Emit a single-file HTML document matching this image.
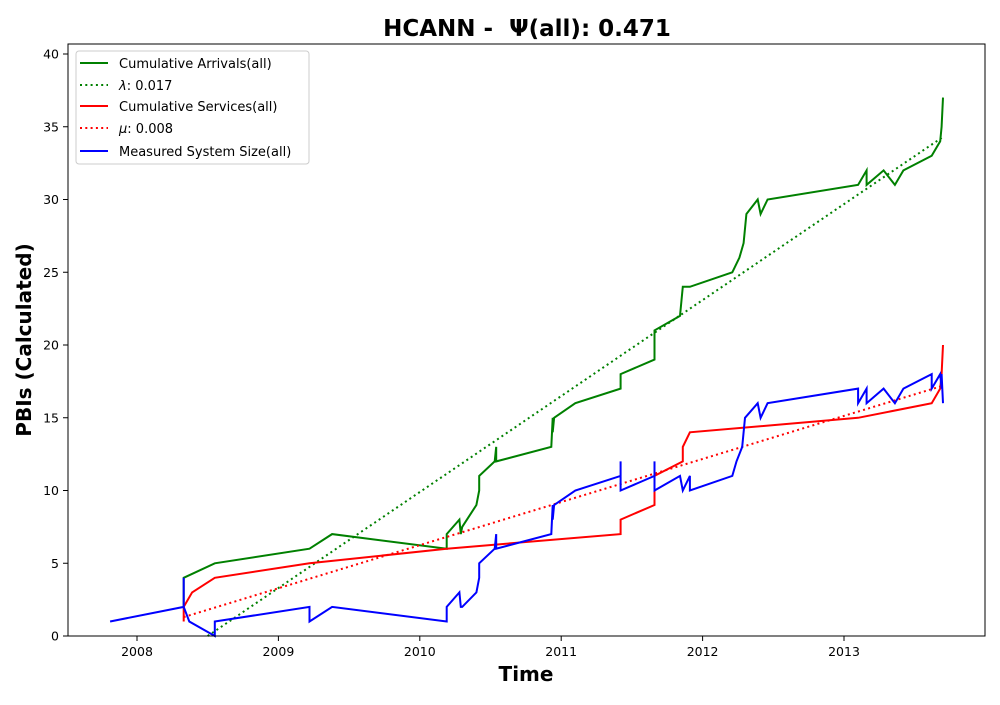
<!DOCTYPE html>
<html><head><meta charset="utf-8"><style>
body{margin:0;background:#fff;width:1000px;height:700px;overflow:hidden}
svg{font-family:"DejaVu Sans","Liberation Sans",sans-serif}
</style></head><body>
<svg id="chart" width="1000" height="700" xmlns="http://www.w3.org/2000/svg">
<text x="527" y="36" text-anchor="middle" font-size="23" font-weight="bold">HCANN -&#160; Ψ(all): 0.471</text>
<g id="plot"></g>
<rect x="68" y="44" width="917" height="592" fill="none" stroke="#000" stroke-width="1"/>
<g id="axes"></g>
<text x="526" y="681" text-anchor="middle" font-size="20" font-weight="bold">Time</text>
<text transform="translate(31,340) rotate(-90)" text-anchor="middle" font-size="20" font-weight="bold">PBIs (Calculated)</text>
<g>
<rect x="76" y="51" width="233" height="113" rx="3" fill="#fff" fill-opacity="0.8" stroke="#ccc"/>
<line x1="80" y1="63" x2="108" y2="63" stroke="green" stroke-width="2"/>
<text x="119" y="68" font-size="13">Cumulative Arrivals(all)</text>
<line x1="80" y1="85" x2="108" y2="85" stroke="green" stroke-width="2" stroke-dasharray="2,3.3"/>
<text x="119" y="90" font-size="13"><tspan font-style="italic">λ</tspan>: 0.017</text>
<line x1="80" y1="106" x2="108" y2="106" stroke="red" stroke-width="2"/>
<text x="119" y="111" font-size="13">Cumulative Services(all)</text>
<line x1="80" y1="128" x2="108" y2="128" stroke="red" stroke-width="2" stroke-dasharray="2,3.3"/>
<text x="119" y="133" font-size="13"><tspan font-style="italic">μ</tspan>: 0.008</text>
<line x1="80" y1="151" x2="108" y2="151" stroke="blue" stroke-width="2"/>
<text x="119" y="156" font-size="13">Measured System Size(all)</text>
</g>
</svg>
<script>
const arrivalsT=[2008.33,2008.33,2008.55,2009.22,2009.38,2010.19,2010.19,2010.28,2010.29,2010.30,2010.40,2010.42,2010.42,2010.53,2010.54,2010.54,2010.93,2010.94,2010.94,2010.95,2011.10,2011.42,2011.42,2011.66,2011.66,2011.84,2011.85,2011.86,2011.91,2012.21,2012.26,2012.29,2012.31,2012.39,2012.41,2012.46,2013.10,2013.16,2013.16,2013.28,2013.36,2013.42,2013.62,2013.68,2013.69,2013.70];
const arrivalsV=[2,4,5,6,7,6,7,8,7,7.5,9,10,11,12,13,12,13,15,14,15,16,17,18,19,21,22,23,24,24,25,26,27,29,30,29,30,31,32,31,32,31,32,33,34,35,37];
const servicesT=[2008.33,2008.33,2008.39,2008.55,2009.22,2010.19,2011.42,2011.42,2011.66,2011.66,2011.86,2011.86,2011.91,2013.10,2013.62,2013.68,2013.69,2013.70];
const servicesV=[1,2,3,4,5,6,7,8,9,11,12,13,14,15,16,17,18,20];
const sizeT=[2007.81,2008.33,2008.33,2008.33,2008.37,2008.55,2008.55,2009.22,2009.22,2009.38,2010.19,2010.19,2010.28,2010.29,2010.30,2010.40,2010.42,2010.42,2010.53,2010.54,2010.54,2010.93,2010.94,2010.94,2010.95,2011.10,2011.42,2011.42,2011.42,2011.66,2011.66,2011.66,2011.84,2011.86,2011.91,2011.91,2012.21,2012.24,2012.28,2012.30,2012.39,2012.41,2012.46,2013.10,2013.10,2013.16,2013.16,2013.28,2013.36,2013.42,2013.62,2013.62,2013.68,2013.69,2013.69,2013.70];
const sizeV=[1,2,4,2,1,0,1,2,1,2,1,2,3,2,2,3,4,5,6,7,6,7,9,8,9,10,11,12,10,11,12,10,11,10,11,10,11,12,13,15,16,15,16,17,16,17,16,17,16,17,18,17,18,17,18,16];
const lambdaT=[2008.50,2013.70];
const lambdaV=[0,34.3];
const muT=[2008.33,2013.70];
const muV=[1.3,17.2];
const xTicks=[2008,2009,2010,2011,2012,2013];
const yTicks=[0,5,10,15,20,25,30,35,40];

const X=t=>137+(t-2008)*141.4;
const Y=v=>636-v*14.55;
const NS='http://www.w3.org/2000/svg';
const plot=document.getElementById('plot');
const axes=document.getElementById('axes');
function line(ts,vs,color,dash,name){
  const p=document.createElementNS(NS,'polyline');
  p.setAttribute('points',ts.map((t,i)=>X(t).toFixed(1)+','+Y(vs[i]).toFixed(1)).join(' '));
  p.setAttribute('fill','none');p.setAttribute('stroke',color);p.setAttribute('stroke-width','2');
  if(dash)p.setAttribute('stroke-dasharray','2,3.3');
  
  
  plot.appendChild(p);
}
line(arrivalsT,arrivalsV,'green',false,'arrivals-line');
line(lambdaT,lambdaV,'green',true,'lambda-trend-line');
line(servicesT,servicesV,'red',false,'services-line');
line(muT,muV,'red',true,'mu-trend-line');
line(sizeT,sizeV,'blue',false,'system-size-line');
xTicks.forEach(t=>{
  const l=document.createElementNS(NS,'line');
  l.setAttribute('x1',X(t));l.setAttribute('x2',X(t));l.setAttribute('y1',636);l.setAttribute('y2',641);l.setAttribute('stroke','#000');
  
  
  axes.appendChild(l);
  const s=document.createElementNS(NS,'text');
  s.setAttribute('x',X(t));s.setAttribute('y',656);s.setAttribute('text-anchor','middle');s.setAttribute('font-size','12.5');
  s.textContent=t;
  
  
  axes.appendChild(s);
});
yTicks.forEach(v=>{
  const l=document.createElementNS(NS,'line');
  l.setAttribute('x1',63);l.setAttribute('x2',68);l.setAttribute('y1',Y(v));l.setAttribute('y2',Y(v));l.setAttribute('stroke','#000');
  
  
  axes.appendChild(l);
  const s=document.createElementNS(NS,'text');
  s.setAttribute('x',59);s.setAttribute('y',Y(v)+4.5);s.setAttribute('text-anchor','end');s.setAttribute('font-size','12.5');
  s.textContent=v;
  
  
  axes.appendChild(s);
});
</script>
</body></html>
